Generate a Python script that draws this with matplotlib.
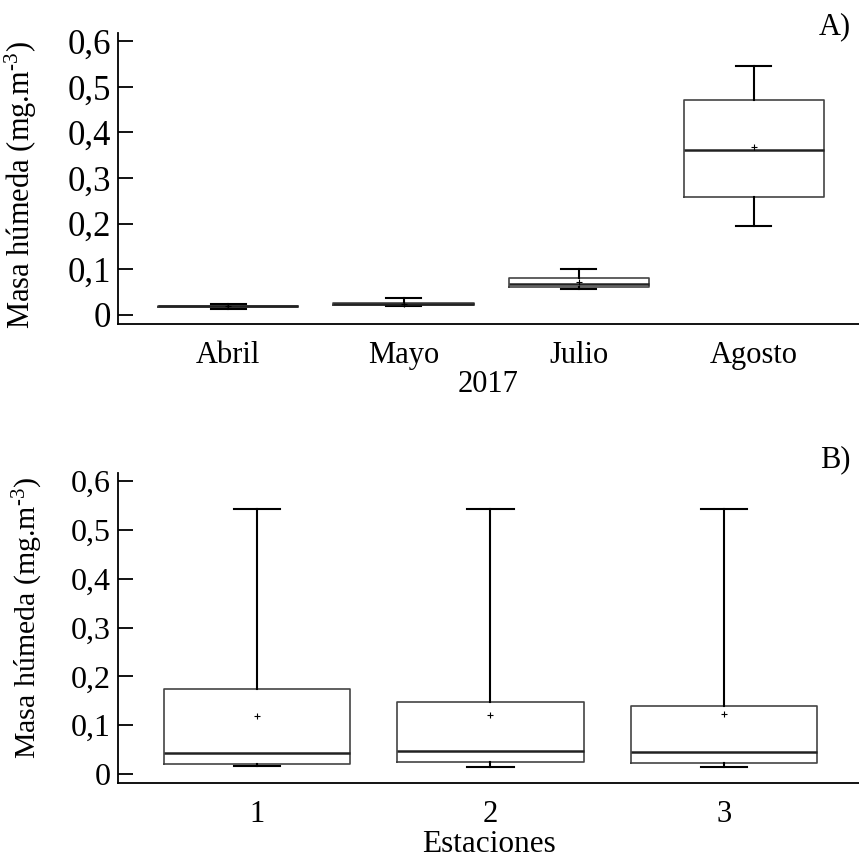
import matplotlib
matplotlib.use("Agg")
import matplotlib.pyplot as plt

plt.rcParams['font.family'] = ['Liberation Serif', 'DejaVu Serif']
plt.rcParams['mathtext.fontset'] = 'custom'
plt.rcParams['mathtext.rm'] = 'Liberation Serif'
plt.rcParams['mathtext.it'] = 'Liberation Serif:italic'

# monthly boxes (2017)
meses = ['Abril', 'Mayo', 'Julio', 'Agosto']
mes_whislo = [0.013, 0.020, 0.057, 0.194]
mes_q1 = [0.017, 0.021, 0.060, 0.258]
mes_med = [0.019, 0.023, 0.067, 0.362]
mes_q3 = [0.020, 0.026, 0.080, 0.471]
mes_whishi = [0.024, 0.037, 0.101, 0.545]
mes_mean = [0.019, 0.024, 0.073, 0.367]

# boxes by station
estaciones = ['1', '2', '3']
est_whislo = [0.016, 0.015, 0.015]
est_q1 = [0.021, 0.024, 0.0225]
est_med = [0.0436, 0.048, 0.046]
est_q3 = [0.175, 0.148, 0.139]
est_whishi = [0.544, 0.543, 0.543]
est_mean = [0.119, 0.121, 0.123]

yticks = [0, 0.1, 0.2, 0.3, 0.4, 0.5, 0.6]
yticklabels = ['0', '0,1', '0,2', '0,3', '0,4', '0,5', '0,6']
ylabel = 'Masa húmeda (mg.m$^{\u20103}$)'


def make_stats(labels, lo, q1, med, q3, hi, mean):
    stats = []
    for i in range(len(labels)):
        stats.append(dict(label=labels[i], whislo=lo[i], q1=q1[i], med=med[i],
                          q3=q3[i], whishi=hi[i], mean=mean[i], fliers=[]))
    return stats


def draw(ax, stats, xlim, ylim, tick_fs, label_fs, ylabel_fs):
    ax.bxp(stats, widths=0.8, capwidths=0.2, showmeans=True, showfliers=False,
           boxprops=dict(color='#444444', linewidth=1.2),
           whiskerprops=dict(color='black', linewidth=1.5),
           capprops=dict(color='black', linewidth=1.5),
           medianprops=dict(color='#222222', linewidth=1.8),
           meanprops=dict(marker='+', markersize=4, markeredgecolor='black',
                          markeredgewidth=0.8))
    ax.set_xlim(*xlim)
    ax.set_ylim(*ylim)
    ax.set_yticks(yticks)
    ax.set_yticklabels(yticklabels, fontsize=tick_fs)
    ax.tick_params(axis='y', direction='in', length=11, width=1.3, pad=5)
    ax.tick_params(axis='x', length=0, pad=12, labelsize=label_fs)
    ax.spines['top'].set_visible(False)
    ax.spines['right'].set_visible(False)
    ax.spines['left'].set_linewidth(1.3)
    ax.spines['bottom'].set_linewidth(1.3)
    ax.set_ylabel(ylabel, fontsize=ylabel_fs)


fig = plt.figure(figsize=(8.59, 8.60), dpi=100)
ax1 = fig.add_axes([0.1374, 0.6233, 0.8626, 0.3384])
ax2 = fig.add_axes([0.1374, 0.0895, 0.8626, 0.3605])

draw(ax1, make_stats(meses, mes_whislo, mes_q1, mes_med, mes_q3, mes_whishi, mes_mean),
     (0.37, 4.6), (-0.02, 0.618), 25, 22, 22)
ax1.yaxis.set_label_coords(-0.107, 0.478)
ax1.set_xlabel('2017', fontsize=22, labelpad=0)

draw(ax2, make_stats(estaciones, est_whislo, est_q1, est_med, est_q3, est_whishi, est_mean),
     (0.405, 3.578), (-0.0184, 0.617), 23, 22, 21.5)
ax2.yaxis.set_label_coords(-0.098, 0.532)
ax2.set_xlabel('Estaciones', fontsize=22.5, labelpad=1)

fig.text(0.99, 0.969, 'A)', ha='right', va='center', fontsize=22)
fig.text(0.99, 0.465, 'B)', ha='right', va='center', fontsize=22)

fig.savefig('out.png', dpi=100)
